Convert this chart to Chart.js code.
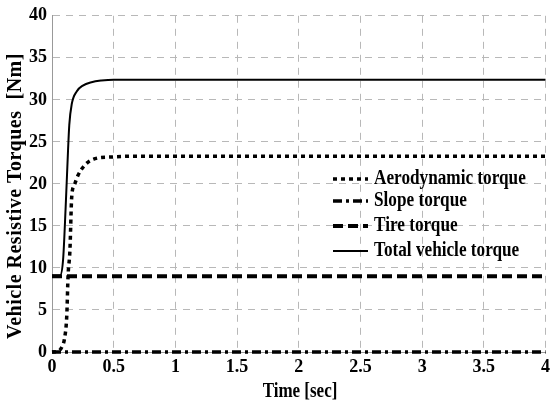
<!DOCTYPE html>
<html>
<head>
<meta charset="utf-8">
<script src="https://cdn.jsdelivr.net/npm/chart.js@4/dist/chart.umd.min.js"></script>
<style>
  html, body { margin: 0; padding: 0; background: #fff; }
  #wrap { width: 555px; height: 406px; position: relative; }
</style>
</head>
<body>
<div id="wrap"><canvas id="chart"></canvas></div>
<script>
// values (time in sec, torque in Nm)
const aeroTime = [0, 0.05, 0.08, 0.1, 0.12, 0.13, 0.145, 0.16, 0.18, 0.21, 0.27, 0.35, 0.48, 0.7, 4]
const aeroTorque = [0, 0.1, 0.6, 1.5, 4.4, 9, 12, 18.5, 19.8, 21, 22.3, 23, 23.2, 23.3, 23.3]
const totalTime = [0, 0.065, 0.09, 0.11, 0.13, 0.14, 0.16, 0.2, 0.25, 0.32, 0.4, 0.5, 4]
const totalTorque = [9.1, 9.1, 11, 17, 24, 27, 29.5, 31, 31.7, 32.1, 32.3, 32.4, 32.4]
const tireTime = [0, 4]
const tireTorque = [9, 9]
const slopeTime = [0, 4]
const slopeTorque = [0, 0]
const yTicks = [0, 5, 10, 15, 20, 25, 30, 35, 40]

const pts = (xs, ys) => xs.map((x, i) => ({ x: x, y: ys[i] }))

const font = 'Liberation Serif'

const series = [
  { label: 'Aerodynamic torque', data: pts(aeroTime, aeroTorque), dash: [4, 4], width: 3.5 },
  { label: 'Slope torque', data: pts(slopeTime, slopeTorque), dash: [9, 4, 3, 4], width: 3.5 },
  { label: 'Tire torque', data: pts(tireTime, tireTorque), dash: [10, 5], width: 4 },
  { label: 'Total vehicle torque', data: pts(totalTime, totalTorque), dash: [], width: 2 }
]

// text in the scan is tall and narrow, so squeeze it a bit
const squeezed = (ctx, text, x, y, size, sx, align) => {
  ctx.save()
  ctx.font = 'bold ' + size + 'px "' + font + '"'
  ctx.textBaseline = 'middle'
  ctx.textAlign = align || 'left'
  ctx.translate(x, y)
  ctx.scale(sx, 1)
  ctx.fillText(text, 0, 0)
  ctx.restore()
}

// legend + axis titles drawn by hand, like the original figure
const extras = {
  id: 'extras',
  afterDraw(chart) {
    const ctx = chart.ctx
    ctx.save()
    ctx.fillStyle = '#000'
    ctx.strokeStyle = '#000'
    const rows = [179, 201, 226, 251]
    series.forEach((s, i) => {
      const y = rows[i]
      ctx.lineWidth = s.width
      ctx.setLineDash(s.dash)
      ctx.beginPath()
      ctx.moveTo(333, y)
      ctx.lineTo(368, y)
      ctx.stroke()
      ctx.setLineDash([])
      squeezed(ctx, s.label, 374, y, 20, 0.86)
    })

    squeezed(ctx, 'Time [sec]', 300, 392, 20, 0.85, 'center')

    ctx.save()
    ctx.translate(16, 196)
    ctx.rotate(-Math.PI / 2)
    ctx.font = 'bold 20px "' + font + '"'
    ctx.letterSpacing = '0.5px'
    ctx.textAlign = 'center'
    ctx.textBaseline = 'middle'
    ctx.fillText('Vehicle Resistive Torques  [Nm]', 0, 0)
    ctx.restore()
    ctx.restore()
  }
}

new Chart('chart', {
  type: 'line',
  data: {
    datasets: series.map(s => ({
      label: s.label,
      data: s.data,
      borderColor: '#000',
      borderWidth: s.width,
      borderDash: s.dash,
      pointRadius: 0,
      fill: false,
      clip: false,
      cubicInterpolationMode: 'monotone'
    }))
  },
  options: {
    responsive: true,
    maintainAspectRatio: false,
    animation: false,
    layout: { padding: { top: 14, right: 2, left: 0, bottom: 0 } },
    plugins: { legend: { display: false }, tooltip: { enabled: false } },
    scales: {
      x: {
        type: 'linear',
        min: 0,
        max: 4,
        afterFit: (scale) => { scale.height = 54 },
        ticks: {
          stepSize: 0.5,
          color: '#000',
          font: { family: font, size: 18, weight: 'bold' },
          padding: 5,
          maxRotation: 0,
          callback: (v) => String(v)
        },
        grid: { color: '#b8b8b8', lineWidth: 1, drawTicks: false },
        border: { display: true, color: '#999', dash: [7, 6] }
      },
      y: {
        min: 0,
        max: 40,
        afterFit: (scale) => { scale.width = 52 },
        afterBuildTicks: (scale) => { scale.ticks = yTicks.map(v => ({ value: v })) },
        ticks: { color: '#000', font: { family: font, size: 18, weight: 'bold' }, padding: 5 },
        grid: { color: '#b8b8b8', lineWidth: 1, drawTicks: false },
        border: { display: true, color: '#999', dash: [7, 6] }
      }
    }
  },
  plugins: [extras]
})
</script>
</body>
</html>
